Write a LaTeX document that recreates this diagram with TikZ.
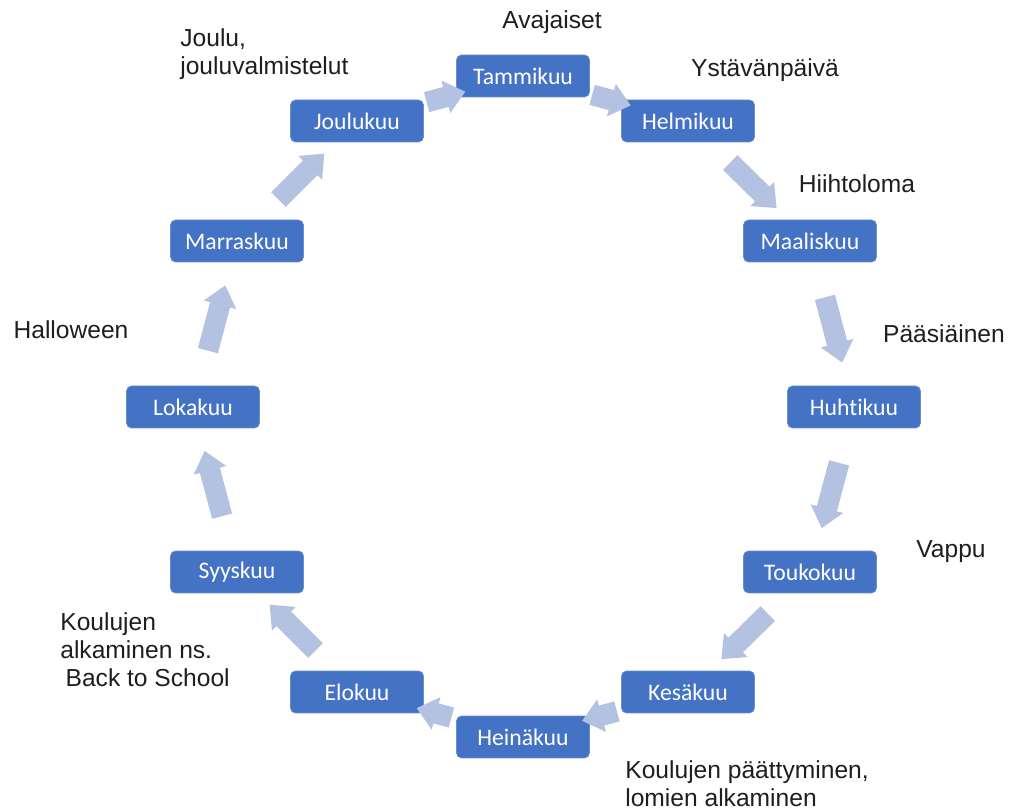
\documentclass[tikz,border=0pt]{standalone}
\usepackage{fontspec}
\setmainfont{Liberation Sans}
\newfontfamily\boxfont[Ligatures=NoCommon]{Carlito}
\usetikzlibrary{shapes.arrows}
\definecolor{kuusini}{RGB}{68,114,196}
\definecolor{nuolisini}{RGB}{180,194,226}
\definecolor{teksti}{RGB}{30,30,30}

\begin{document}
\begin{tikzpicture}[x=0.02cm,y=-0.02cm,
  kuukausi/.style={fill=kuusini, draw=kuusini!80!white, line width=0.4pt, rounded corners=0.1cm,
    minimum width=2.66cm, minimum height=0.84cm, text=white, font=\boxfont\fontsize{13.5}{15}\selectfont},
  nuoli/.style={single arrow, fill=nuolisini, draw=none, inner xsep=0pt, inner ysep=0.2cm,
    minimum width=0.66cm, single arrow head extend=0.13cm, single arrow tip angle=80,
    midway, sloped, allow upside down},
  tapahtuma/.style={text=teksti, inner sep=0pt, align=left, font=\fontsize{14}{15.9}\selectfont}]
\useasboundingbox (0,0) rectangle (1012,810);
% kuukaudet
\node[kuukausi] (tammi) at (523,76) {Tammikuu};
\node[kuukausi] (helmi) at (688,121) {Helmikuu};
\node[kuukausi] (maalis) at (810,241) {Maaliskuu};
\node[kuukausi] (huhti) at (854,407) {Huhtikuu};
\node[kuukausi] (touko) at (810,572) {Toukokuu};
\node[kuukausi] (kesa) at (688,692) {Kesäkuu};
\node[kuukausi] (heina) at (523,737) {Heinäkuu};
\node[kuukausi] (elo) at (357,692) {Elokuu};
\node[kuukausi] (syys) at (237,572) {Syyskuu};
\node[kuukausi] (loka) at (193,407) {Lokakuu};
\node[kuukausi] (marras) at (237,241) {Marraskuu};
\node[kuukausi] (joulu) at (357,121) {Joulukuu};
% nuolet
\path (joulu) -- (tammi) node[nuoli, minimum height=0.8cm] {};
\path (tammi) -- (helmi) node[nuoli, minimum height=0.8cm] {};
\path (helmi) -- (maalis) node[nuoli, minimum height=1.3cm] {};
\path (maalis) -- (huhti) node[nuoli, minimum height=1.35cm] {};
\path (huhti) -- (touko) node[nuoli, minimum height=1.35cm] {};
\path (touko) -- (kesa) node[nuoli, minimum height=1.3cm] {};
\path (kesa) -- (heina) node[nuoli, minimum height=0.72cm] {};
\path (heina) -- (elo) node[nuoli, minimum height=0.72cm] {};
\path (elo) -- (syys) node[nuoli, minimum height=1.3cm] {};
\path (syys) -- (loka) node[nuoli, minimum height=1.35cm] {};
\path (loka) -- (marras) node[nuoli, minimum height=1.35cm] {};
\path (marras) -- (joulu) node[nuoli, minimum height=1.3cm] {};
% tapahtumat
\node[tapahtuma] (avaj) at (552,22) {Avajaiset};
\node[tapahtuma] (ystav) at (765,70) {Ystävänpäivä};
\node[tapahtuma] (hiiht) at (857,184) {Hiihtoloma};
\node[tapahtuma] (paasi) at (944,334) {Pääsiäinen};
\node[tapahtuma] (vappu) at (951,552) {Vappu};
\node[tapahtuma, anchor=north west] (kesaloma) at (625,760) {Koulujen päättyminen,\\lomien alkaminen};
\node[tapahtuma, anchor=north west] (koulu) at (60,612) {Koulujen\\alkaminen ns.\\\hspace{3pt}Back to School};
\node[tapahtuma] (hallo) at (71,330) {Halloween};
\node[tapahtuma, anchor=north west] (joulut) at (180,28) {Joulu,\\jouluvalmistelut};
\end{tikzpicture}
\end{document}
